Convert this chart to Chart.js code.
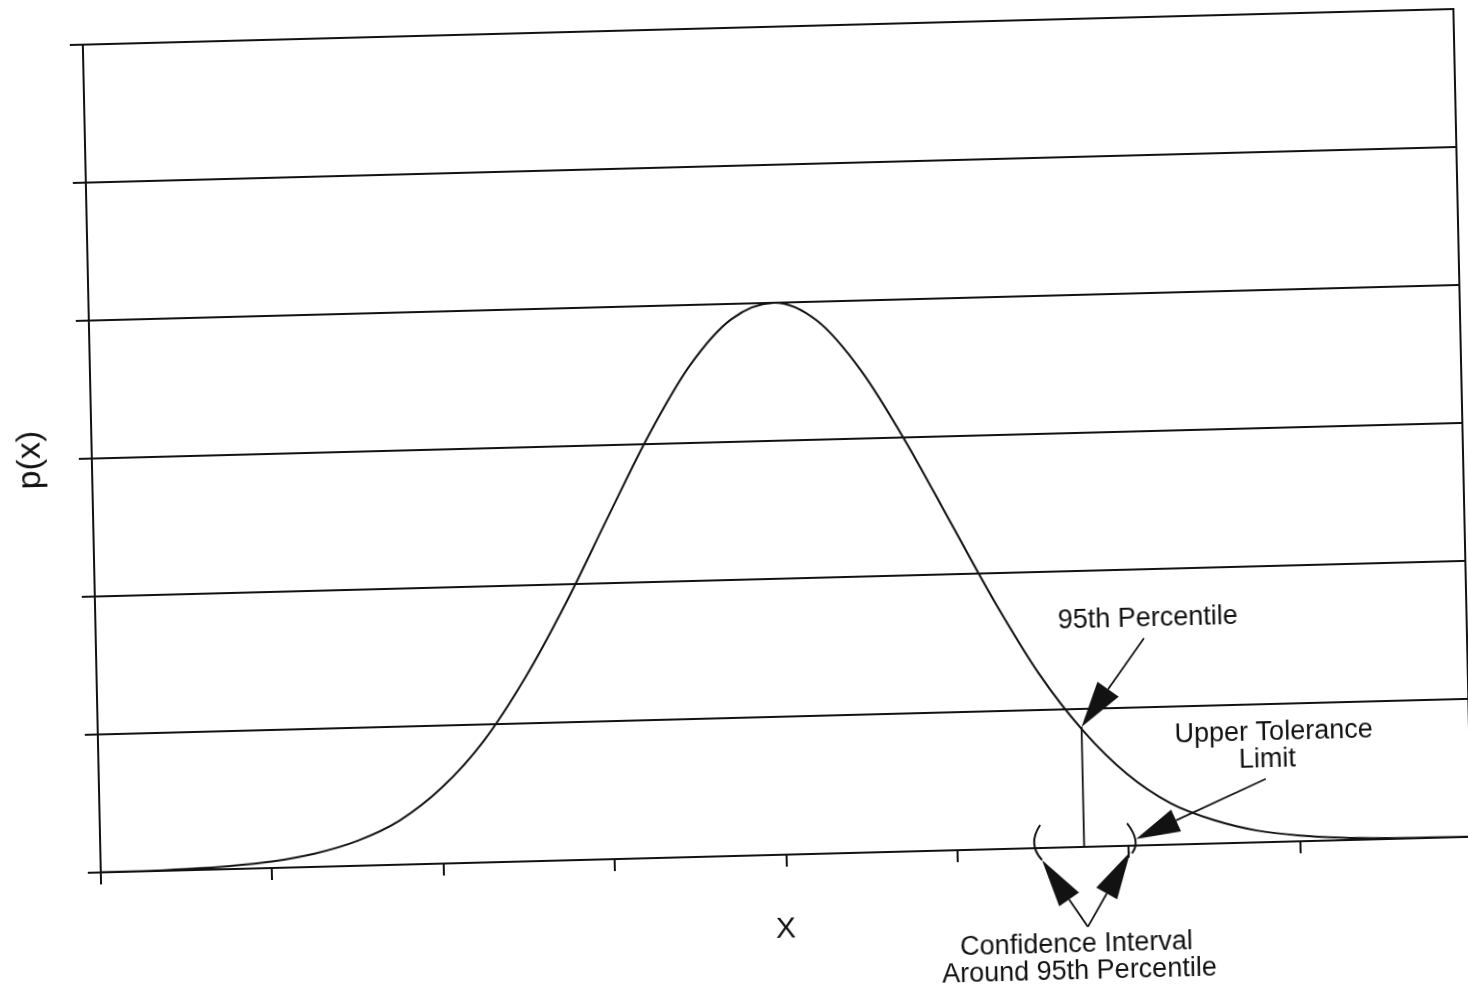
<!DOCTYPE html>
<html>
<head>
<meta charset="utf-8">
<script src="https://cdn.jsdelivr.net/npm/chart.js@4.4.1/dist/chart.umd.min.js"></script>
<style>
html,body{margin:0;padding:0;background:#fff;overflow:hidden;}
#wrap{position:absolute;left:0;top:0;width:1468px;height:990px;
  transform:matrix(1,-0.026,0.0217,1,0,0);transform-origin:734px 495px;}
</style>
</head>
<body>
<div id="wrap"><canvas id="c" width="1468" height="990"></canvas></div>
<script>
// ---- data ----
const xValues = [0,0.25,0.5,0.75,1,1.25,1.5,1.75,2,2.25,2.5,2.75,3,3.25,3.5,3.75,4,4.25,4.5,4.75,5,5.25,5.5,5.75,6,6.25,6.5,6.75,7,7.25,7.5,7.75,8];
const pValues = [0.001,0.002,0.009,0.022,0.047,0.096,0.18,0.32,0.55,0.88,1.33,1.87,2.47,3.06,3.56,3.89,4.0,3.86,3.49,2.97,2.38,1.79,1.26,0.84,0.52,0.30,0.17,0.086,0.042,0.019,0.008,0.003,0.001];
const percentileX = [5.74, 5.74];
const percentileY = [0, 0.87];
const xTickValues = [0,1,2,3,4,5,6,7,8];
const yTickValues = [0,1,2,3,4,5,6];
const xTitle = 'X';
const yTitle = 'p(x)';
const label95 = '95th Percentile';
const labelUTL = ['Upper Tolerance', 'Limit'];
const labelCI = ['Confidence Interval', 'Around 95th Percentile'];

const INK = '#121212';
const FONT = '"Liberation Sans", Arial, Helvetica, sans-serif';

function arrow(ctx, from, to, len, hw) {
  const dx = to[0]-from[0], dy = to[1]-from[1];
  const d = Math.hypot(dx, dy), ux = dx/d, uy = dy/d;
  const bx = to[0]-ux*len, by = to[1]-uy*len;
  ctx.beginPath(); ctx.moveTo(from[0], from[1]); ctx.lineTo(bx, by); ctx.stroke();
  ctx.beginPath();
  ctx.moveTo(to[0], to[1]);
  ctx.lineTo(bx - uy*hw, by + ux*hw);
  ctx.lineTo(bx + uy*hw, by - ux*hw);
  ctx.closePath(); ctx.fill();
}
function bracket(ctx, p0, pm, p1) {
  const cx = 2*pm[0] - (p0[0]+p1[0])/2, cy = 2*pm[1] - (p0[1]+p1[1])/2;
  ctx.beginPath(); ctx.moveTo(p0[0], p0[1]); ctx.quadraticCurveTo(cx, cy, p1[0], p1[1]); ctx.stroke();
}

const annotPlugin = {
  id: 'annot',
  afterDraw(chart) {
    const {ctx, chartArea: a, scales: {x, y}} = chart;
    const P = (vx, vy) => [x.getPixelForValue(vx), y.getPixelForValue(vy)];
    ctx.save();
    ctx.strokeStyle = INK; ctx.fillStyle = INK; ctx.lineWidth = 2;
    // right frame line
    ctx.beginPath(); ctx.moveTo(a.right, a.top - 1); ctx.lineTo(a.right, a.bottom); ctx.stroke();

    // axis titles
    ctx.textAlign = 'center'; ctx.textBaseline = 'middle';
    ctx.font = '30px ' + FONT;
    const xt = P(3.99, -0.54);
    ctx.fillText(xTitle, xt[0], xt[1]);
    const yt = P(-0.36, 3.0);
    ctx.save(); ctx.translate(yt[0], yt[1]); ctx.rotate(-Math.PI/2);
    ctx.font = '34px ' + FONT; ctx.fillText(yTitle, 0, 0); ctx.restore();

    // annotation texts
    ctx.font = '27px ' + FONT;
    let t = P(6.14, 1.64); ctx.fillText(label95, t[0], t[1]);
    t = P(6.86, 0.794); ctx.fillText(labelUTL[0], t[0], t[1]);
    t = P(6.82, 0.596); ctx.fillText(labelUTL[1], t[0], t[1]);
    t = P(5.683, -0.709); ctx.fillText(labelCI[0], t[0], t[1]);
    t = P(5.697, -0.905); ctx.fillText(labelCI[1], t[0], t[1]);

    // arrows
    ctx.lineWidth = 1.8;
    arrow(ctx, P(6.115, 1.50), P(percentileX[1], percentileY[1]), 46, 13);
    arrow(ctx, P(6.808, 0.458), P(6.044, 0.048), 44, 12);
    const v = P(5.752, -0.579);
    arrow(ctx, v, P(5.492, -0.087), 48, 12);
    arrow(ctx, v, P(6.009, -0.043), 48, 12);

    // confidence-interval brackets
    ctx.lineWidth = 2;
    bracket(ctx, P(5.486, 0.167), P(5.449, 0.036), P(5.492, -0.087));
    bracket(ctx, P(5.993, 0.163), P(6.040, 0.041), P(6.018, -0.055));
    ctx.restore();
  }
};

new Chart(document.getElementById('c'), {
  type: 'line',
  data: {
    datasets: [
      {
        data: xValues.map((v, i) => ({x: v, y: pValues[i]})),
        borderColor: INK, borderWidth: 2, pointRadius: 0,
        cubicInterpolationMode: 'monotone', fill: false
      },
      {
        data: percentileX.map((v, i) => ({x: v, y: percentileY[i]})),
        borderColor: INK, borderWidth: 1.8, pointRadius: 0, fill: false
      }
    ]
  },
  options: {
    responsive: false,
    animation: false,
    devicePixelRatio: 1,
    layout: {padding: {top: 28, right: 4, left: 0, bottom: 0}},
    plugins: {legend: {display: false}, tooltip: {enabled: false}},
    scales: {
      x: {
        type: 'linear', min: 0, max: 8,
        afterBuildTicks: s => { s.ticks = xTickValues.map(v => ({value: v})); },
        afterFit: s => { s.height = 134; },
        ticks: {display: false},
        grid: {display: true, drawOnChartArea: false, drawTicks: true, tickLength: 12, color: INK, lineWidth: 2},
        border: {display: true, color: INK, width: 2}
      },
      y: {
        type: 'linear', min: 0, max: 6,
        afterBuildTicks: s => { s.ticks = yTickValues.map(v => ({value: v})); },
        afterFit: s => { s.width = 93; },
        ticks: {display: false},
        grid: {display: true, drawOnChartArea: true, drawTicks: true, tickLength: 13, color: INK, lineWidth: 2},
        border: {display: true, color: INK, width: 2}
      }
    }
  },
  plugins: [annotPlugin]
});
</script>
</body>
</html>
